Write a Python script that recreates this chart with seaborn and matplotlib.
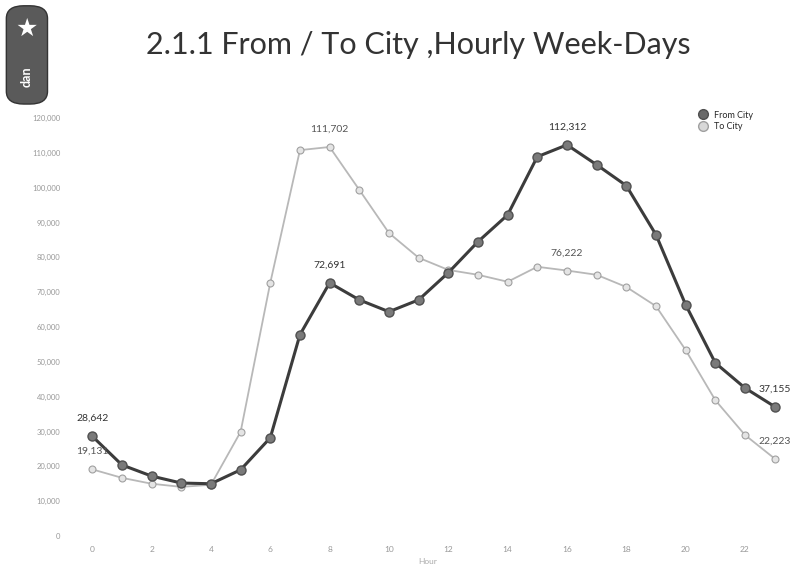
import seaborn as sns
import pandas as pd
import numpy as np
import matplotlib.pyplot as plt
from matplotlib.patches import FancyBboxPatch

hours = list(range(24))
from_city = [28642, 20400, 17200, 15200, 15000, 19000, 28200, 57800, 72691, 67800, 64400, 67800,
             75600, 84500, 92200, 108900, 112312, 106600, 100600, 86500, 66400, 49700, 42500, 37155]
to_city = [19131, 16700, 15000, 14100, 14700, 29900, 72700, 110800, 111702, 99400, 87000, 79900,
           76400, 75000, 73000, 77300, 76222, 75000, 71500, 66000, 53400, 39000, 29000, 22223]
labelled = [0, 8, 16, 23]
xticks = list(range(0, 24, 2))
yticks = list(range(0, 130000, 10000))

df = pd.DataFrame({"hour": hours * 2,
                   "riders": from_city + to_city,
                   "direction": ["From City"] * 24 + ["To City"] * 24})

sns.set_style("white")
plt.rcParams['font.family'] = ['Lato', 'DejaVu Sans']

fig = plt.figure(figsize=(7.92, 5.78), dpi=100)
ax = fig.add_axes([0.0884, 0.0727, 0.9028, 0.723])

sns.lineplot(data=df[df.direction == "To City"], x="hour", y="riders", ax=ax,
             color="#b8b8b8", linewidth=1.3, marker="o", markersize=5,
             markerfacecolor="#e4e4e4", markeredgecolor="#a0a0a0", markeredgewidth=0.8,
             label="To City", legend=False)
sns.lineplot(data=df[df.direction == "From City"], x="hour", y="riders", ax=ax,
             color="#3c3c3c", linewidth=2.2, marker="o", markersize=6.5,
             markerfacecolor="#7a7a7a", markeredgecolor="#505050", markeredgewidth=1,
             label="From City", legend=False)

for i in labelled:
    ax.annotate(f"{from_city[i]:,}", (hours[i], from_city[i]), xytext=(0, 11),
                textcoords="offset points", ha="center", fontsize=7.5, color="#333333")
    ax.annotate(f"{to_city[i]:,}", (hours[i], to_city[i]), xytext=(0, 11),
                textcoords="offset points", ha="center", fontsize=7.5, color="#555555")

ax.set_xlim(-0.75, 23.35)
ax.set_ylim(0, 120000)
ax.set_xticks(xticks)
ax.set_xticklabels([str(h) for h in xticks], fontsize=6, color="#999999")
ax.set_yticks(yticks)
ax.set_yticklabels([f"{v:,}" for v in yticks], fontsize=5.5, color="#999999")
ax.tick_params(length=0, pad=7)
ax.set_xlabel("Hour", fontsize=6, color="#aaaaaa", labelpad=4)
ax.set_ylabel("")
sns.despine(ax=ax, left=True, bottom=True)

h1 = plt.Line2D([], [], color="none", marker="o", markersize=7,
                markerfacecolor="#6a6a6a", markeredgecolor="#505050")
h2 = plt.Line2D([], [], color="none", marker="o", markersize=7,
                markerfacecolor="#d8d8d8", markeredgecolor="#a0a0a0")
fig.legend([h1, h2], ["From City", "To City"], loc="upper right",
           bbox_to_anchor=(0.955, 0.815), frameon=False, fontsize=6.5,
           handletextpad=0.2, labelspacing=0.3, borderaxespad=0)

fig.text(0.528, 0.922, "2.1.1 From / To City ,Hourly Week-Days", ha="center", va="center",
         fontsize=22, color="#333333")

# logo in the corner
logo = FancyBboxPatch((0.008, 0.82), 0.052, 0.17, boxstyle="round,pad=0,rounding_size=0.022",
                      transform=fig.transFigure, facecolor="#5a5a5a", edgecolor="#333333")
fig.patches.append(logo)
fig.text(0.034, 0.95, "\u2605", ha="center", va="center", fontsize=18, color="white",
         family=["DejaVu Sans"])
fig.text(0.034, 0.868, "dan", ha="center", va="center", fontsize=9, color="white",
         rotation=90, fontweight="bold")

fig.savefig("out.png", dpi=100)
